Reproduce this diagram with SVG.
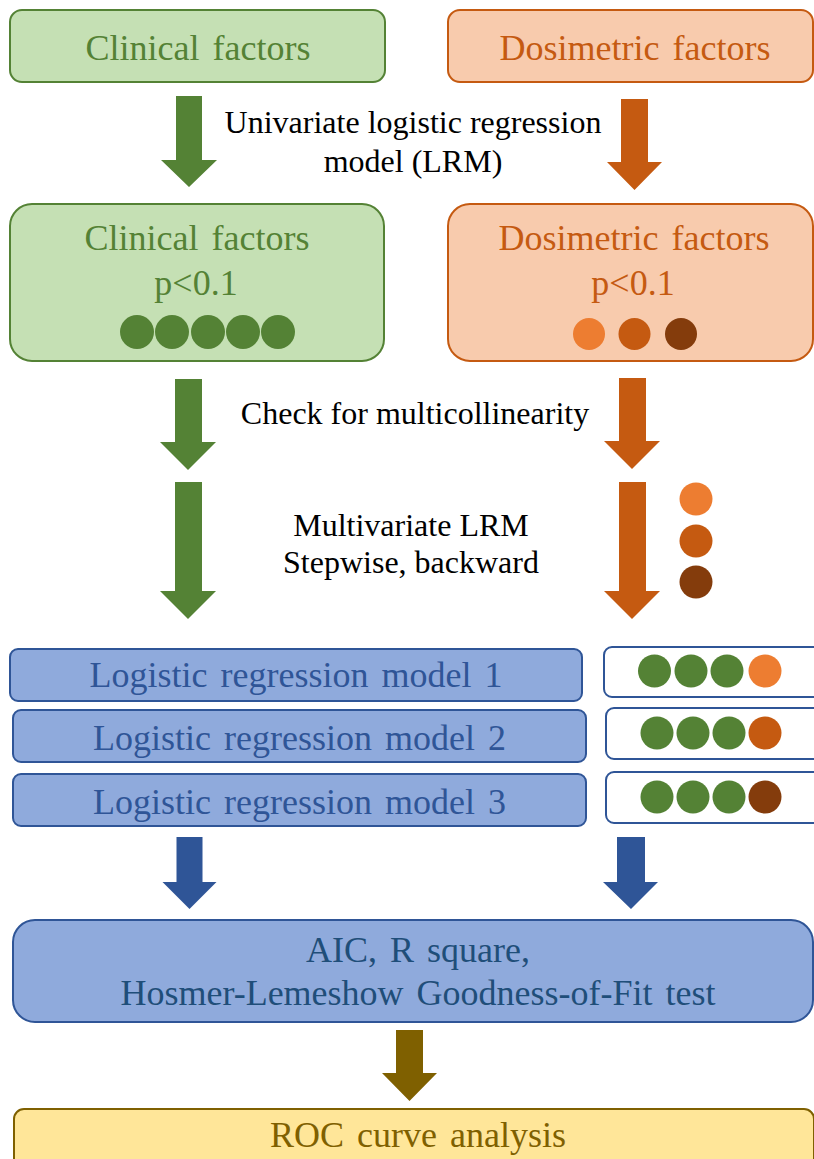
<svg xmlns="http://www.w3.org/2000/svg" width="814" height="1159" viewBox="0 0 814 1159">
<style>
.t{font-family:"Liberation Serif","Times New Roman",serif;text-anchor:middle}
.bl{font-size:36px;word-spacing:4px}
.lb{font-size:32px;fill:#000}
.green{fill:#C5E0B4;stroke:#548235;stroke-width:2}
.orange{fill:#F8CBAD;stroke:#C55A11;stroke-width:2}
.blue{fill:#8FAADC;stroke:#2F5597;stroke-width:2}
.white{fill:#FFFFFF;stroke:#2F5597;stroke-width:2}
.gold{fill:#FFE699;stroke:#7F6000;stroke-width:2}
.cg{fill:#548235}.co1{fill:#ED7D31}.co2{fill:#C55A11}.co3{fill:#843C0C}
</style>
<rect width="814" height="1159" fill="#FFFFFF"/>
<g id="clinical1">
<rect class="green" x="10" y="10" width="375" height="72" rx="12"/>
<text class="t bl" x="198" y="60" fill="#548235">Clinical factors</text>
</g>
<g id="dosimetric1">
<rect class="orange" x="448" y="10" width="365" height="72" rx="12"/>
<text class="t bl" x="635" y="60" fill="#C55A11">Dosimetric factors</text>
</g>
<g id="clinical2">
<rect class="green" x="10" y="204" width="374" height="157" rx="22"/>
<text class="t bl" x="197" y="250" fill="#548235">Clinical factors</text>
<text class="t bl" x="196" y="295" fill="#548235">p&lt;0.1</text>
<circle class="cg" cx="137" cy="332" r="17"/>
<circle class="cg" cx="172" cy="332" r="17"/>
<circle class="cg" cx="208" cy="332" r="17"/>
<circle class="cg" cx="243" cy="332" r="17"/>
<circle class="cg" cx="278" cy="332" r="17"/>
</g>
<g id="dosimetric2">
<rect class="orange" x="448" y="204" width="365" height="157" rx="22"/>
<text class="t bl" x="634" y="250" fill="#C55A11">Dosimetric factors</text>
<text class="t bl" x="633" y="295" fill="#C55A11">p&lt;0.1</text>
<circle class="co1" cx="589" cy="334" r="16"/>
<circle class="co2" cx="634.5" cy="334" r="16"/>
<circle class="co3" cx="681" cy="334" r="16"/>
</g>
<g id="label-univariate">
<text class="t lb" x="413" y="133">Univariate logistic regression</text>
<text class="t lb" x="413" y="172">model (LRM)</text>
</g>
<g id="label-multicollinearity">
<text class="t lb" x="415" y="424">Check for multicollinearity</text>
</g>
<g id="label-multivariate">
<text class="t lb" x="411" y="536">Multivariate LRM</text>
<text class="t lb" x="411" y="573">Stepwise, backward</text>
</g>
<g id="selected-dosimetric">
<circle class="co1" cx="696" cy="499" r="16.5"/>
<circle class="co2" cx="696" cy="541" r="16.5"/>
<circle class="co3" cx="696" cy="582" r="16.5"/>
</g>
<g id="model1">
<rect class="blue" x="10" y="649" width="572" height="52" rx="8"/>
<text class="t bl" x="296" y="687" fill="#2F5597">Logistic regression model 1</text>
</g>
<g id="model2">
<rect class="blue" x="13" y="710" width="573" height="52" rx="8"/>
<text class="t bl" x="299.5" y="750" fill="#2F5597">Logistic regression model 2</text>
</g>
<g id="model3">
<rect class="blue" x="13" y="774" width="573" height="52" rx="8"/>
<text class="t bl" x="299.5" y="814" fill="#2F5597">Logistic regression model 3</text>
</g>
<g id="vars1">
<rect class="white" x="604" y="647" width="230" height="50" rx="8"/>
<circle class="cg" cx="654.5" cy="671" r="16.5"/>
<circle class="cg" cx="691" cy="671" r="16.5"/>
<circle class="cg" cx="727" cy="671" r="16.5"/>
<circle class="co1" cx="765" cy="671" r="16.5"/>
</g>
<g id="vars2">
<rect class="white" x="606" y="708" width="230" height="51" rx="8"/>
<circle class="cg" cx="657" cy="733" r="16.5"/>
<circle class="cg" cx="693" cy="733" r="16.5"/>
<circle class="cg" cx="729" cy="733" r="16.5"/>
<circle class="co2" cx="765" cy="733" r="16.5"/>
</g>
<g id="vars3">
<rect class="white" x="606" y="772" width="230" height="51" rx="8"/>
<circle class="cg" cx="657" cy="797" r="16.5"/>
<circle class="cg" cx="693" cy="797" r="16.5"/>
<circle class="cg" cx="729" cy="797" r="16.5"/>
<circle class="co3" cx="765" cy="797" r="16.5"/>
</g>
<g id="fit-tests">
<rect class="blue" x="13" y="920" width="800" height="102" rx="22"/>
<text class="t bl" x="418" y="962" fill="#1F4E79">AIC, R square,</text>
<text class="t bl" x="418" y="1005" fill="#1F4E79">Hosmer-Lemeshow Goodness-of-Fit test</text>
</g>
<g id="roc">
<rect class="gold" x="14" y="1109" width="800" height="70" rx="10"/>
<text class="t bl" x="418" y="1147" fill="#7F6000">ROC curve analysis</text>
</g>
<g id="connectors">
<polygon fill="#548235" points="176,96 202,96 202,160 217,160 189,187 161,160 176,160"/>
<polygon fill="#C55A11" points="621,99 648,99 648,162 662,162 634.5,190 607,162 621,162"/>
<polygon fill="#548235" points="175,379 202,379 202,442 216,442 188,470 160,442 175,442"/>
<polygon fill="#C55A11" points="619,378 646,378 646,441 660,441 632,469 604,441 619,441"/>
<polygon fill="#548235" points="175,482 202,482 202,591 216,591 188,619 160,591 175,591"/>
<polygon fill="#C55A11" points="619,482 646,482 646,591 660,591 632,619 604,591 619,591"/>
<polygon fill="#2F5597" points="176.5,837 202.5,837 202.5,882 216.5,882 189.5,909 162.5,882 176.5,882"/>
<polygon fill="#2F5597" points="617,837 645,837 645,882 658,882 631,909 603,882 617,882"/>
<polygon fill="#7F6000" points="396,1030 423,1030 423,1073 437,1073 409.5,1101 382,1073 396,1073"/>
</g>
</svg>
